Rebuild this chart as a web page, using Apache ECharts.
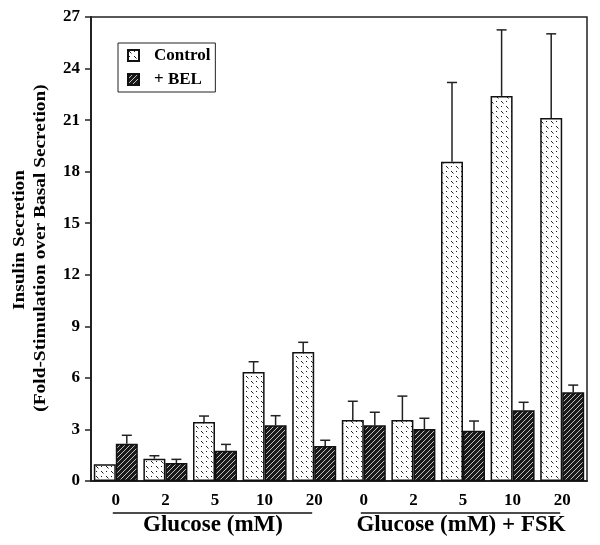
<!DOCTYPE html>
<html>
<head>
<meta charset="utf-8">
<script src="https://cdn.jsdelivr.net/npm/echarts@6/dist/echarts.min.js"></script>
<style>html,body{margin:0;padding:0;background:#fff;}#c{width:600px;height:545px;}</style>
</head>
<body>
<div id="c"></div>
<script>
// ---- data ----
var categories = ['0', '2', '5', '10', '20', '0', '2', '5', '10', '20'];
var controlValues = [0.97, 1.3, 3.43, 6.34, 7.5, 3.55, 3.55, 18.58, 22.41, 21.12];
var controlErr = [0, 0.17, 0.35, 0.6, 0.57, 1.09, 1.39, 4.61, 3.84, 4.9];
var belValues = [2.17, 1.05, 1.76, 3.24, 2.04, 3.24, 3.02, 2.93, 4.11, 5.16];
var belErr = [0.49, 0.21, 0.37, 0.56, 0.33, 0.76, 0.63, 0.56, 0.47, 0.42];
var seriesNames = ['Control', '+ BEL'];
var groupLabels = ['Glucose (mM)', 'Glucose (mM) + FSK'];
var yTitle = ['Insulin Secretion', '(Fold-Stimulation over Basal Secretion)'];
var yMin = 0, yMax = 27, yStep = 3;

var FONT = '"Liberation Serif", "Times New Roman", serif';

function controlPattern() {
  var s = 10;
  var c = document.createElement('canvas');
  c.width = s; c.height = s;
  var g = c.getContext('2d');
  g.fillStyle = '#fff'; g.fillRect(0, 0, s, s);
  g.strokeStyle = '#222'; g.lineWidth = 1;
  g.beginPath();
  g.moveTo(1, 1); g.lineTo(3.5, 3.5);
  g.moveTo(6, 6); g.lineTo(8.5, 8.5);
  g.moveTo(6, 2); g.lineTo(7, 1);
  g.moveTo(1, 7); g.lineTo(2, 6);
  g.stroke();
  return c;
}
function belPattern() {
  var s = 5;
  var c = document.createElement('canvas');
  c.width = s; c.height = s;
  var g = c.getContext('2d');
  g.fillStyle = '#1a1a1a'; g.fillRect(0, 0, s, s);
  g.strokeStyle = '#c0c0c0'; g.lineWidth = 1;
  g.beginPath();
  g.moveTo(0, s); g.lineTo(s, 0);
  g.moveTo(-1, 1); g.lineTo(1, -1);
  g.moveTo(s - 1, s + 1); g.lineTo(s + 1, s - 1);
  g.stroke();
  return c;
}

var chart = echarts.init(document.getElementById('c'), null, {renderer: 'canvas'});
var BAR_W = 22;

function errSeries(values, errs, offset) {
  var data = values.map(function (v, i) { return [i, v, errs[i]]; });
  return {
    type: 'custom',
    silent: true,
    z: 5,
    data: data,
    encode: {x: 0, y: 1},
    renderItem: function (params, api) {
      var i = api.value(0), v = api.value(1), e = api.value(2);
      if (!e) return null;
      var p0 = api.coord([i, v]);
      var p1 = api.coord([i, v + e]);
      var x = p0[0] + offset;
      var st = {stroke: '#222', lineWidth: 1.5};
      return {
        type: 'group',
        children: [
          {type: 'line', shape: {x1: x, y1: p0[1], x2: x, y2: p1[1]}, style: st},
          {type: 'line', shape: {x1: x - 5, y1: p1[1], x2: x + 5, y2: p1[1]}, style: st}
        ]
      };
    }
  };
}

var option = {
  animation: false,
  backgroundColor: '#fff',
  grid: {
    left: 91, right: 13, top: 17, bottom: 64,
    show: true, borderColor: '#222', borderWidth: 1.5, backgroundColor: 'transparent',
    containLabel: false, outerBoundsMode: 'none'
  },
  legend: {
    orient: 'vertical',
    left: 118, top: 43,
    padding: [4, 5, 4, 9],
    itemWidth: 11, itemHeight: 11, itemGap: 7,
    borderColor: '#222', borderWidth: 1,
    backgroundColor: '#fff',
    icon: 'rect',
    data: seriesNames,
    textStyle: {fontFamily: FONT, fontWeight: 'bold', fontSize: 17, color: '#000', lineHeight: 17, padding: [0, 0, 0, 10]}
  },
  xAxis: {
    type: 'category',
    data: categories,
    boundaryGap: true,
    axisLine: {lineStyle: {color: '#222', width: 2}},
    axisTick: {alignWithLabel: true, length: 6, lineStyle: {color: '#222', width: 1.5}},
    axisLabel: {fontFamily: FONT, fontWeight: 'bold', fontSize: 17, color: '#000', margin: 11, interval: 0},
    splitLine: {show: false}
  },
  yAxis: {
    type: 'value',
    min: yMin, max: yMax, interval: yStep,
    axisLine: {show: true, lineStyle: {color: '#222', width: 2}},
    axisTick: {show: true, length: 6, lineStyle: {color: '#222', width: 1.5}},
    axisLabel: {fontFamily: FONT, fontWeight: 'bold', fontSize: 17, color: '#000', margin: 11},
    splitLine: {show: false}
  },
  series: [
    {
      name: seriesNames[0], type: 'bar', barWidth: BAR_W, barGap: '0%',
      data: controlValues,
      itemStyle: {color: {image: controlPattern(), repeat: 'repeat'}, borderColor: '#111', borderWidth: 1.5},
      z: 3
    },
    {
      name: seriesNames[1], type: 'bar', barWidth: BAR_W, barGap: '0%',
      data: belValues,
      itemStyle: {color: {image: belPattern(), repeat: 'repeat'}, borderColor: '#111', borderWidth: 1.5},
      z: 3
    },
    errSeries(controlValues, controlErr, -BAR_W / 2),
    errSeries(belValues, belErr, BAR_W / 2)
  ]
};
chart.setOption(option);

function px(i) { return chart.convertToPixel({xAxisIndex: 0}, i); }
var lineY = 513, textY = 525;
var g = [];
[[0, 4, 2], [5, 9, 7]].forEach(function (r, k) {
  g.push({type: 'line', shape: {x1: px(r[0]) - 3, y1: lineY, x2: px(r[1]) - 2, y2: lineY}, style: {stroke: '#111', lineWidth: 1.5}});
  g.push({type: 'text', x: px(r[2]) - 2, y: textY, style: {text: groupLabels[k], font: 'bold 23px ' + FONT, fill: '#000', align: 'center', verticalAlign: 'middle'}});
});
g.push({type: 'text', x: 20, y: 240, rotation: Math.PI / 2, scaleX: 1.14,
  style: {text: yTitle[0], font: 'bold 17px ' + FONT, fill: '#000', align: 'center', verticalAlign: 'middle'}});
g.push({type: 'text', x: 41, y: 248, rotation: Math.PI / 2, scaleX: 1.14,
  style: {text: yTitle[1], font: 'bold 17px ' + FONT, fill: '#000', align: 'center', verticalAlign: 'middle'}});
chart.setOption({graphic: g});
</script>
</body>
</html>
